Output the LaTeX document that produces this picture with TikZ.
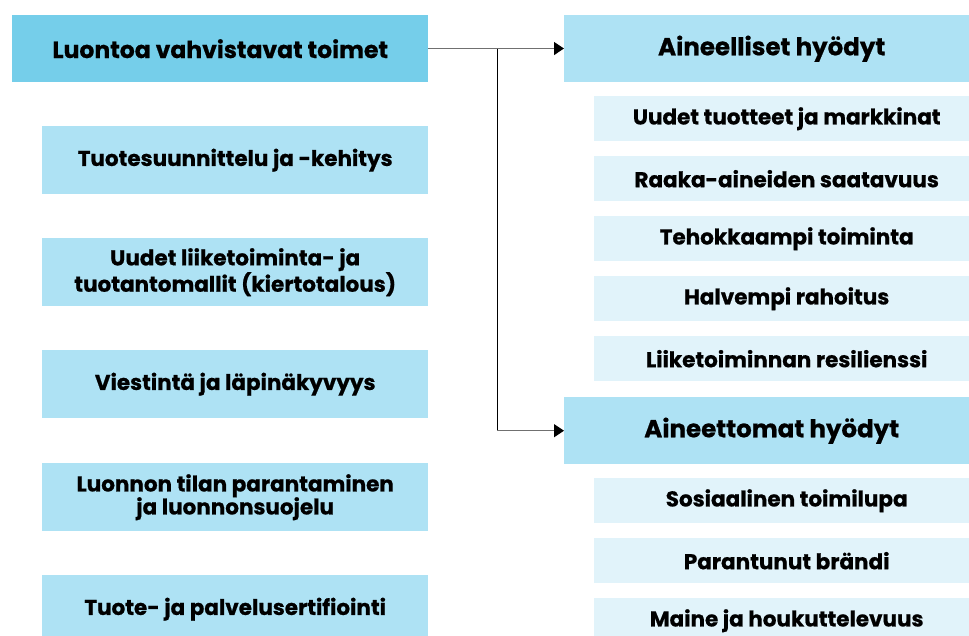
\documentclass[tikz,border=0pt]{standalone}
\usepackage{fontspec}
\setmainfont{Poppins}[BoldFeatures={FakeBold=0.7}]
\usetikzlibrary{arrows.meta}
\definecolor{mainc}{HTML}{75CEEA}
\definecolor{midc}{HTML}{AEE2F4}
\definecolor{lightc}{HTML}{E1F3FA}
\definecolor{linec}{HTML}{707070}
\tikzset{
  box/.style={anchor=north west, inner sep=0pt, align=center, font=\bfseries\fontsize{21.5}{23}\selectfont, text=black},
  mainbox/.style={box, fill=mainc, font=\bfseries\fontsize{23.5}{27}\selectfont},
  leftbox/.style={box, fill=midc, minimum width=386pt, minimum height=68pt},
  headbox/.style={box, fill=midc, minimum width=415pt, minimum height=67pt, font=\bfseries\fontsize{24.5}{27}\selectfont},
  subbox/.style={box, fill=lightc, minimum width=385pt, minimum height=45pt},
  conn/.style={draw=linec, line width=1.3pt, -{Triangle[length=10pt,width=13pt,black]}},
}
\begin{document}
\begin{tikzpicture}[x=1pt,y=-1pt]
\useasboundingbox (0,0) rectangle (969,635);
\node[mainbox, minimum width=416pt, minimum height=67pt] (main) at (12,15) {Luontoa vahvistavat toimet};
\node[leftbox] (l1) at (42,126) {Tuotesuunnittelu ja -kehitys};
\node[leftbox] (l2) at (42,238) {Uudet liiketoiminta- ja\\tuotantomallit (kiertotalous)};
\node[leftbox] (l3) at (42,350) {Viestintä ja läpinäkyvyys};
\node[leftbox] (l4) at (42,463) {Luonnon tilan parantaminen\\ja luonnonsuojelu};
\node[leftbox] (l5) at (42,575) {Tuote- ja palvelusertifiointi};
\node[headbox] (ah) at (564,15) {Aineelliset hyödyt};
\node[subbox] (a1) at (594,96) {Uudet tuotteet ja markkinat};
\node[subbox] (a2) at (594,156) {Raaka-aineiden saatavuus};
\node[subbox] (a3) at (594,216) {Tehokkaampi toiminta};
\node[subbox] (a4) at (594,276) {Halvempi rahoitus};
\node[subbox] (a5) at (594,336) {Liiketoiminnan resilienssi};
\node[headbox] (at) at (564,397) {Aineettomat hyödyt};
\node[subbox] (b1) at (594,478) {Sosiaalinen toimilupa};
\node[subbox] (b2) at (594,538) {Parantunut brändi};
\node[subbox] (b3) at (594,598) {Maine ja houkuttelevuus};
\coordinate (j) at (497,48.5);
\draw[conn] (main.east |- j) -- (ah.west |- j);
\draw[black, line width=0.9pt] (j) -- (j |- at.west);
\draw[conn] (j |- at.west) -- (at.west);
\end{tikzpicture}
\end{document}
